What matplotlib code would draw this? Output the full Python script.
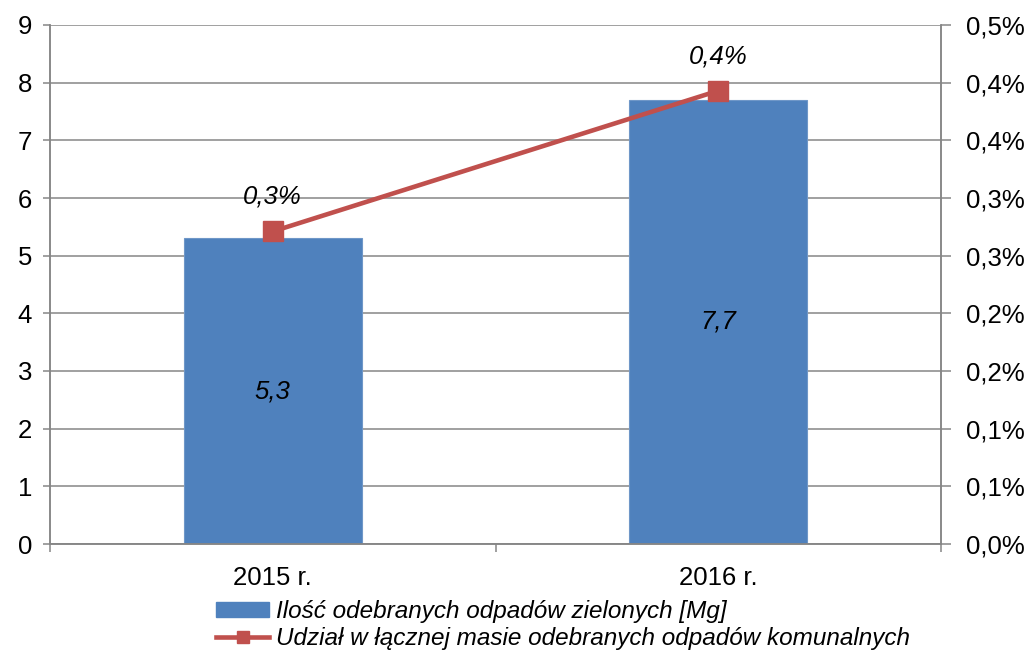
import matplotlib.pyplot as plt
from matplotlib.lines import Line2D
from matplotlib.patches import Patch
from matplotlib.ticker import FixedLocator, FuncFormatter
from decimal import Decimal, ROUND_HALF_UP

plt.rcParams['font.family'] = ['Liberation Sans', 'DejaVu Sans']

years = ['2015 r.', '2016 r.']
mass = [5.3, 7.7]                 # Mg
share = [0.271, 0.393]            # % of total municipal waste
share_labels = ['0,3%', '0,4%']
mass_labels = ['5,3', '7,7']

bar_name = 'Ilość odebranych odpadów zielonych [Mg]'
line_name = 'Udział w łącznej masie odebranych odpadów komunalnych'

blue = '#4F81BD'
red = '#C0504D'
grey = '#868686'
fs = 18.5

fig = plt.figure(figsize=(10.29, 6.51), dpi=100)
ax = fig.add_axes([50 / 1029, 107 / 651, 891 / 1029, 519 / 651])
ax2 = ax.twinx()

x = list(range(len(years)))
ax.bar(x, mass, width=0.4, color=blue, edgecolor='#6F97C8', linewidth=0.8, zorder=2)
for xi, v, lab in zip(x, mass, mass_labels):
    ax.text(xi, v / 2, lab, ha='center', va='center', fontsize=fs, style='italic', zorder=3)

ax.set_xlim(-0.5, 1.5)
ax.set_ylim(0, 9)
ax.set_yticks(range(0, 10))
ax.yaxis.grid(True, color=grey, linewidth=1.1, zorder=0)
ax.set_axisbelow(True)
ax.set_xticks(x)
ax.set_xticklabels(years)
ax.xaxis.set_minor_locator(FixedLocator([-0.5, 0.5, 1.5]))
ax.tick_params(axis='x', which='major', length=0, labelsize=fs, pad=16)
ax.tick_params(axis='x', which='minor', length=6, width=1.1, color=grey)
ax.tick_params(axis='y', length=5, width=1.1, color=grey, labelsize=fs, pad=8)

for a in (ax, ax2):
    a.spines['top'].set_visible(False)
    for s in ('left', 'right', 'bottom'):
        a.spines[s].set_color(grey)
        a.spines[s].set_linewidth(1.1)

ax2.plot(x, share, color=red, linewidth=3.3, marker='s', markersize=14, zorder=4)
for xi, v, lab in zip(x, share, share_labels):
    ax2.annotate(lab, (xi, v), xytext=(0, 25), textcoords='offset points',
                 ha='center', va='center', fontsize=fs, style='italic')


def pct_fmt(v, pos):
    d = Decimal(str(round(v, 4))).quantize(Decimal('0.1'), rounding=ROUND_HALF_UP)
    return f'{d}%'.replace('.', ',')


ax2.set_ylim(0, 0.45)
ax2.set_yticks([i * 0.05 for i in range(10)])
ax2.yaxis.set_major_formatter(FuncFormatter(pct_fmt))
ax2.tick_params(axis='y', length=7, width=1.1, color=grey, labelsize=fs, pad=11)

handles = [
    Patch(facecolor=blue, edgecolor=blue),
    Line2D([], [], color=red, linewidth=3.3, marker='s', markersize=9),
]
leg = fig.legend(handles, [bar_name, line_name], loc='upper left',
                 bbox_to_anchor=(216 / 1029, 1 - 600 / 651), frameon=False,
                 borderpad=0, borderaxespad=0, handlelength=2.2, handleheight=0.55,
                 handletextpad=0.25, labelspacing=0.15,
                 prop={'size': 17.5, 'style': 'italic'})

fig.savefig('out.png', dpi=100)
